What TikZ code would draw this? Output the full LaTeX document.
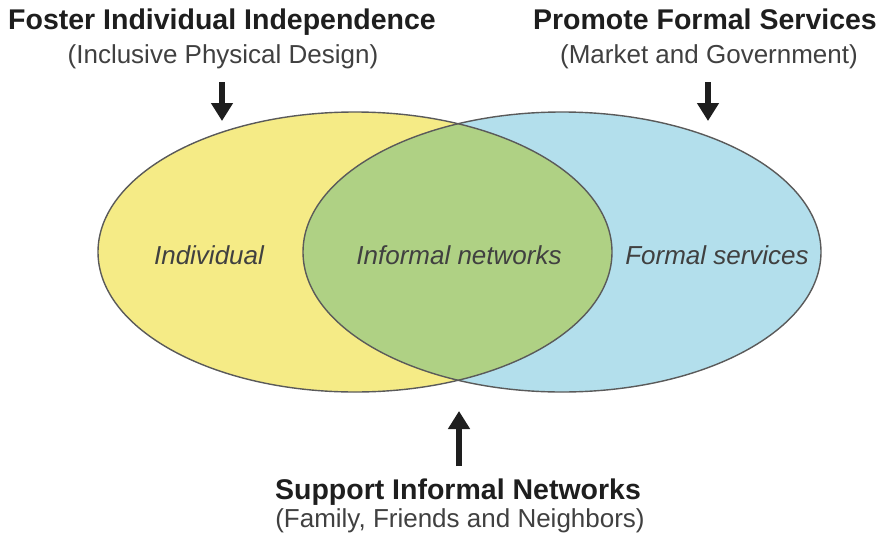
\documentclass[tikz,border=0pt]{standalone}
\usepackage{fontspec}
\setmainfont{Liberation Sans}
\usetikzlibrary{arrows.meta}
\definecolor{indfill}{HTML}{F5EB86}
\definecolor{formfill}{HTML}{B3DFEC}
\definecolor{infill}{HTML}{AFD184}
\definecolor{rim}{HTML}{5A5A5A}
\definecolor{ink}{HTML}{1E1E1E}
\definecolor{labelink}{HTML}{404040}
\tikzset{
  title/.style={font=\fontsize{28.5}{32}\selectfont\bfseries, text=ink, inner sep=0pt, anchor=base},
  subtitle/.style={font=\fontsize{26}{30}\selectfont, text=ink!85, inner sep=0pt, anchor=base},
  setlabel/.style={font=\fontsize{26}{30}\selectfont\itshape, text=labelink, inner sep=0pt, anchor=base},
  pointer/.style={line width=5.2pt, ink, -{Triangle[width=21pt,length=18pt]}},
  rimline/.style={draw=rim, line width=1.4pt}
}
\begin{document}
\begin{tikzpicture}[x=1pt, y=-1pt]
  \useasboundingbox (0,0) rectangle (884,536);

  % the two overlapping sets
  \def\leftset{(355,252) ellipse [x radius=257pt, y radius=140pt]}
  \def\rightset{(562,252) ellipse [x radius=259pt, y radius=140pt]}
  \fill[indfill] \leftset;
  \fill[formfill] \rightset;
  \begin{scope}
    \clip \leftset;
    \fill[infill] \rightset;
  \end{scope}
  \draw[rimline] \leftset;
  \draw[rimline] \rightset;

  % set labels
  \node[setlabel] (ind) at (209,264) {Individual};
  \node[setlabel] (inf) at (459,264) {Informal networks};
  \node[setlabel] (frm) at (717,264) {Formal services};

  % headings
  \node[title] (fii) at (222,29) {Foster Individual Independence};
  \node[subtitle] (ipd) at (223,63) {(Inclusive Physical Design)};
  \node[title] (pfs) at (705,29) {Promote Formal Services};
  \node[subtitle] (mag) at (709,63) {(Market and Government)};
  \node[title] (sin) at (458,499) {Support Informal Networks};
  \node[subtitle] (ffn) at (460,527) {(Family, Friends and Neighbors)};

  % arrows pointing at the sets
  \coordinate (a1s) at (222,82);  \coordinate (a1e) at (222,121);
  \coordinate (a2s) at (708,82);  \coordinate (a2e) at (708,121);
  \coordinate (a3s) at (459,466); \coordinate (a3e) at (459,411);
  \draw[pointer] (a1s) -- (a1e);
  \draw[pointer] (a2s) -- (a2e);
  \draw[pointer] (a3s) -- (a3e);
\end{tikzpicture}
\end{document}
